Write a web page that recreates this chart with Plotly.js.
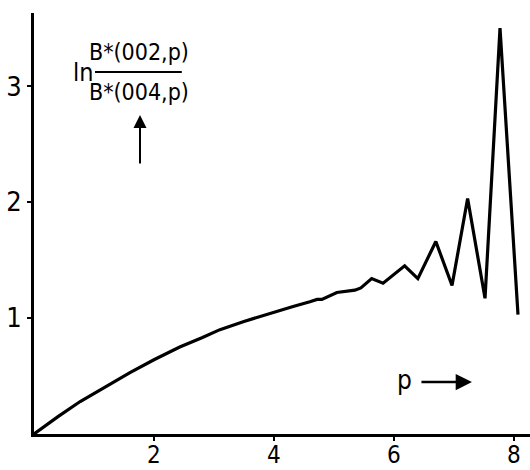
<!DOCTYPE html>
<html>
<head>
<meta charset="utf-8">
<script src="https://cdn.plot.ly/plotly-3.0.1.min.js"></script>
<style>html,body{margin:0;padding:0;background:#fff}#chart{width:530px;height:470px}
#chart svg text{font-stretch:condensed !important;}</style>
</head>
<body>
<div id="chart"></div>
<script>
const p = [0, 0.4, 0.77, 1.2, 1.6, 2.0, 2.43, 2.8, 3.1, 3.5, 3.93, 4.32, 4.6, 4.72, 4.8, 4.88, 5.05, 5.35, 5.45, 5.63, 5.82, 6.18, 6.4, 6.7, 6.97, 7.23, 7.52, 7.77, 8.07];
const lnRatio = [0, 0.15, 0.28, 0.41, 0.53, 0.64, 0.75, 0.83, 0.90, 0.97, 1.04, 1.10, 1.14, 1.16, 1.16, 1.18, 1.22, 1.24, 1.26, 1.34, 1.30, 1.45, 1.34, 1.66, 1.28, 2.03, 1.17, 3.5, 1.03];
const xTicks = [2, 4, 6, 8];
const yTicks = [1, 2, 3];
const yLabelTop = 'B*(002,p)';
const yLabelBottom = 'B*(004,p)';
const xLabel = 'p';

const FONT = '"DejaVu Sans Condensed", "DejaVu Sans", sans-serif';

const trace = {
  x: p, y: lnRatio, type: 'scatter', mode: 'lines',
  line: {color: '#000', width: 3.2, shape: 'linear'},
  hoverinfo: 'skip'
};

const C = {xanchor: 'center', yanchor: 'middle'};

const layout = {
  width: 530, height: 470,
  margin: {l: 34, r: 0, t: 13, b: 36},
  paper_bgcolor: '#fff', plot_bgcolor: '#fff',
  showlegend: false,
  font: {family: FONT, color: '#000'},
  xaxis: {
    range: [0, 8.27], showgrid: false, zeroline: false,
    showline: true, linecolor: '#000', linewidth: 3,
    tickvals: xTicks, ticktext: xTicks.map(String),
    ticks: 'outside', ticklen: 4, tickwidth: 2, tickcolor: '#000',
    ticklabelstandoff: -7,
    tickfont: {family: FONT, size: 24, color: '#000'}
  },
  yaxis: {
    range: [0, 3.63], showgrid: false, zeroline: false,
    showline: true, linecolor: '#000', linewidth: 3,
    tickvals: yTicks, ticktext: yTicks.map(String),
    ticks: 'outside', ticklen: 4, tickwidth: 2, tickcolor: '#000',
    tickfont: {family: FONT, size: 27, color: '#000'}
  },
  shapes: [
    {type: 'line', xref: 'paper', yref: 'paper', x0: 0.123, x1: 0.298, y0: 0.860, y1: 0.860,
     line: {color: '#000', width: 2}}
  ],
  annotations: [
    Object.assign({xref: 'paper', yref: 'paper', x: 0.0988, y: 0.858, text: 'ln', showarrow: false,
     font: {family: FONT, size: 25, color: '#000'}}, C),
    Object.assign({xref: 'paper', yref: 'paper', x: 0.2117, y: 0.908, text: yLabelTop, showarrow: false,
     font: {family: FONT, size: 23, color: '#000'}}, C),
    Object.assign({xref: 'paper', yref: 'paper', x: 0.2117, y: 0.812, text: yLabelBottom, showarrow: false,
     font: {family: FONT, size: 23, color: '#000'}}, C),
    {xref: 'paper', yref: 'paper', x: 0.2137, y: 0.7577, text: '', showarrow: true,
     ax: 0, ay: 50, arrowhead: 2, arrowsize: 1.3, arrowwidth: 2, arrowcolor: '#000'},
    Object.assign({xref: 'paper', yref: 'paper', x: 0.746, y: 0.128, text: xLabel, showarrow: false,
     font: {family: FONT, size: 26, color: '#000'}}, C),
    {xref: 'paper', yref: 'paper', x: 0.883, y: 0.1235, text: '', showarrow: true,
     ax: -52, ay: 0, arrowhead: 2, arrowsize: 1.3, arrowwidth: 2.5, arrowcolor: '#000'}
  ]
};

Plotly.newPlot('chart', [trace], layout, {staticPlot: true, displayModeBar: false});
</script>
</body>
</html>
